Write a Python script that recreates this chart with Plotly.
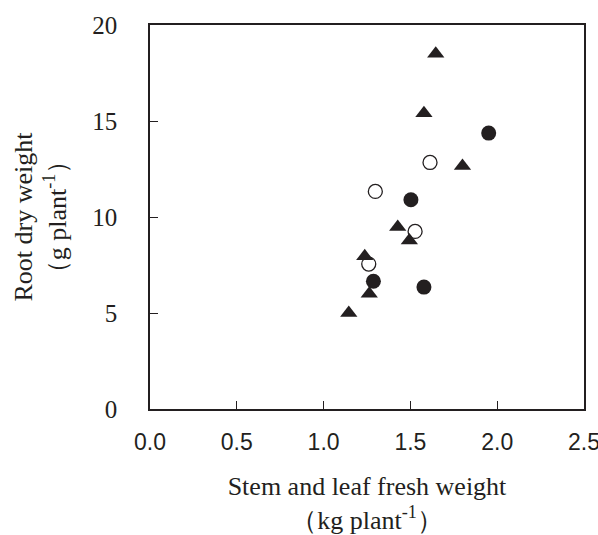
import plotly.graph_objects as go

# Data
tri_x = [1.646, 1.578, 1.800, 1.427, 1.494, 1.237, 1.263, 1.145]
tri_y = [18.5, 15.4, 12.65, 9.48, 8.78, 7.95, 6.0, 5.0]

filled_x = [1.951, 1.503, 1.287, 1.578]
filled_y = [14.37, 10.9, 6.65, 6.35]

open_x = [1.613, 1.298, 1.527, 1.260]
open_y = [12.84, 11.33, 9.25, 7.55]

x_ticks = [0.0, 0.5, 1.0, 1.5, 2.0, 2.5]
x_tick_labels = ["0.0", "0.5", "1.0", "1.5", "2.0", "2.5"]
y_ticks = [0, 5, 10, 15, 20]
y_tick_labels = ["0", "5", "10", "15", "20"]

ink = "#231f20"

fig = go.Figure()
fig.add_trace(go.Scatter(x=open_x, y=open_y, mode="markers",
                         marker=dict(symbol="circle", size=14, color="white",
                                     line=dict(color=ink, width=1.3)),
                         showlegend=False))
fig.add_trace(go.Scatter(x=tri_x, y=tri_y, mode="markers",
                         marker=dict(symbol="triangle-up", size=15, color=ink,
                                     line=dict(width=0)),
                         showlegend=False))
fig.add_trace(go.Scatter(x=filled_x, y=filled_y, mode="markers",
                         marker=dict(symbol="circle", size=15, color=ink,
                                     line=dict(width=0)),
                         showlegend=False))

fig.update_layout(
    width=598, height=535,
    margin=dict(l=150, r=14, t=25, b=126),
    paper_bgcolor="white", plot_bgcolor="white",
    showlegend=False,
)
fig.update_xaxes(
    range=[0, 2.5], tickvals=x_ticks, ticktext=x_tick_labels,
    automargin=False, ticklabeloverflow="allow",
    showgrid=False, zeroline=False,
    showline=True, linecolor=ink, linewidth=1.5, mirror=True,
    ticks="inside", ticklen=8, tickwidth=1.2, tickcolor=ink,
    ticklabelstandoff=12,
    tickfont=dict(family="Liberation Sans, Arial", size=23, color=ink),
    title=dict(text="Stem and leaf fresh weight<br>（kg plant<sup>-1</sup>）",
               font=dict(family="Liberation Serif, Times New Roman", size=26, color=ink),
               standoff=27),
)
fig.update_yaxes(
    range=[0, 20], tickvals=y_ticks, ticktext=y_tick_labels,
    automargin=False,
    showgrid=False, zeroline=False,
    showline=True, linecolor=ink, linewidth=1.5, mirror=True,
    ticks="inside", ticklen=8, tickwidth=1.2, tickcolor=ink,
    ticklabelstandoff=26,
    tickfont=dict(family="Liberation Serif, Times New Roman", size=25, color=ink),
    title=dict(text="Root dry weight<br>（g plant<sup>-1</sup>）",
               font=dict(family="Liberation Serif, Times New Roman", size=26, color=ink),
               standoff=18),
)

fig.write_html("out.html", config={"displayModeBar": False},
               post_script="document.body.style.margin='0';")
